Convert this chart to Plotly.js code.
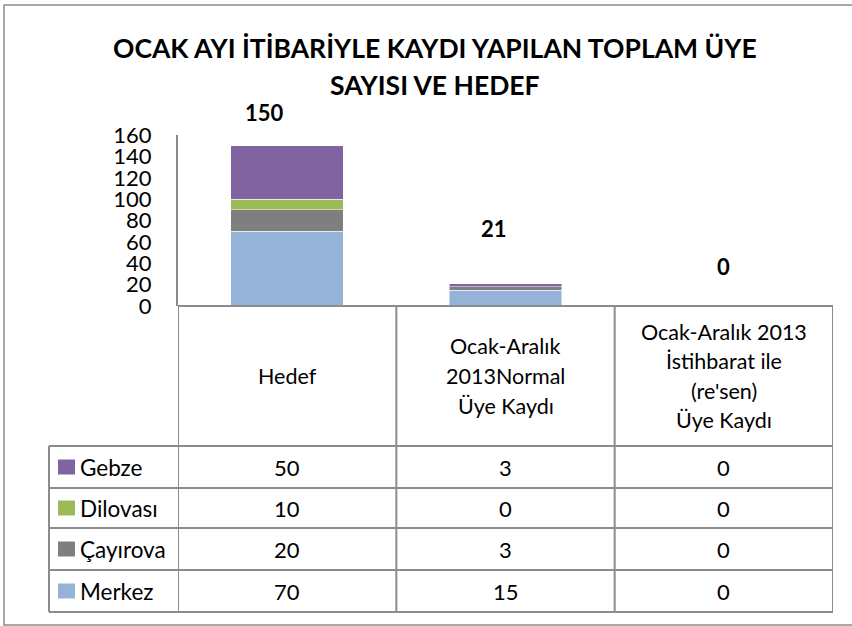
<!DOCTYPE html>
<html>
<head>
<meta charset="utf-8">
<script src="https://cdn.plot.ly/plotly-3.0.1.min.js"></script>
<style>html,body{margin:0;padding:0;background:#fff;}#chart{width:852px;height:626px;}</style>
</head>
<body>
<div id="chart"></div>
<script>
// ---- data ----
const categories = ["Hedef", "Ocak-Aralık<br>2013Normal<br>Üye Kaydı", "Ocak-Aralık 2013<br>İstihbarat ile<br>(re'sen)<br>Üye Kaydı"];
const seriesNames = ["Gebze", "Dilovası", "Çayırova", "Merkez"];
const gebze = [50, 3, 0];
const dilovasi = [10, 0, 0];
const cayirova = [20, 3, 0];
const merkez = [70, 15, 0];
const totalLabels = [150, 21, 0];
const yTicks = [0, 20, 40, 60, 80, 100, 120, 140, 160];
const titleLines = ["OCAK AYI İTİBARİYLE KAYDI YAPILAN TOPLAM ÜYE", "SAYISI VE HEDEF"];

// ---- style ----
const colors = {"Gebze": "#8064A2", "Dilovası": "#9BBB59", "Çayırova": "#7F7F7F", "Merkez": "#95B3D7"};
const W = 852, H = 626;
const FONT = "Lato, 'Open Sans', sans-serif";
const px = x => x / W;
const py = y => 1 - y / H;
const plotL = 178, plotR = 833, plotTop = 135.3, plotBot = 306;
const tableLeft = 49, rowLines = [446, 488, 528, 570, 612];
const gridColor = "#8c8c8c";

const xIdx = categories.map((c, i) => i);
const valuesBySeries = {"Gebze": gebze, "Dilovası": dilovasi, "Çayırova": cayirova, "Merkez": merkez};
const stackOrder = ["Merkez", "Çayırova", "Dilovası", "Gebze"];

const traces = stackOrder.map(name => ({
  type: "bar",
  name: name,
  x: xIdx,
  y: valuesBySeries[name],
  width: 0.515,
  marker: {color: colors[name], line: {color: "rgba(255,255,255,0.6)", width: 0.8}},
  hoverinfo: "x+y+name",
  showlegend: false
}));

const shapes = [];
const annotations = [];

// outer border
shapes.push({type: "rect", xref: "paper", yref: "paper", x0: px(4), x1: px(853), y0: py(625), y1: py(5),
  line: {color: "#8c8c8c", width: 1.5}});

// horizontal top line of table (x axis)
shapes.push({type: "line", xref: "paper", yref: "paper", x0: px(plotL), x1: px(plotR), y0: py(plotBot), y1: py(plotBot),
  line: {color: gridColor, width: 2}});
rowLines.forEach(y => shapes.push({type: "line", xref: "paper", yref: "paper", x0: px(tableLeft), x1: px(plotR), y0: py(y), y1: py(y),
  line: {color: gridColor, width: 2}}));
// vertical lines at category boundaries
for (let b = -0.5; b <= categories.length - 0.5 + 1e-9; b += 1) {
  shapes.push({type: "line", xref: "x", yref: "paper", x0: b, x1: b, y0: py(plotBot), y1: py(rowLines[rowLines.length - 1]),
    line: {color: gridColor, width: 2}});
}
// legend column left line
shapes.push({type: "line", xref: "paper", yref: "paper", x0: px(tableLeft), x1: px(tableLeft), y0: py(rowLines[0]), y1: py(rowLines[rowLines.length - 1]),
  line: {color: gridColor, width: 2}});

// header labels (each line as its own annotation)
const headerCenterY = 376;
const headerLineH = 29.5;
categories.forEach((c, i) => {
  const lines = c.split("<br>");
  lines.forEach((ln, k) => {
    const y = headerCenterY + (k - (lines.length - 1) / 2) * headerLineH;
    annotations.push({xref: "x", yref: "paper", x: i, y: py(y), text: ln, showarrow: false,
      xanchor: "center", yanchor: "middle", font: {family: FONT, size: 21.5, color: "#000"}});
  });
});

// table rows
seriesNames.forEach((name, r) => {
  const yc = (rowLines[r] + rowLines[r + 1]) / 2;
  shapes.push({type: "rect", xref: "paper", yref: "paper", x0: px(58), x1: px(75), y0: py(yc + 7.5), y1: py(yc - 7.5),
    fillcolor: colors[name], line: {width: 0}});
  annotations.push({xref: "paper", yref: "paper", x: px(78), y: py(yc), text: name, showarrow: false,
    xanchor: "left", yanchor: "middle", font: {family: FONT, size: 22.5, color: "#000"}});
  valuesBySeries[name].forEach((v, i) => {
    annotations.push({xref: "x", yref: "paper", x: i, y: py(yc), text: String(v), showarrow: false,
      xanchor: "center", yanchor: "middle", font: {family: FONT, size: 22, color: "#000"}});
  });
});

// total labels
const totalShift = [{dx: -23, dy: 33}, {dx: -12, dy: 55}, {dx: 0, dy: 40}];
totalLabels.forEach((t, i) => {
  annotations.push({xref: "x", yref: "y", x: i, y: t, text: "<b>" + t + "</b>", showarrow: false,
    xanchor: "center", yanchor: "middle", xshift: totalShift[i].dx, yshift: totalShift[i].dy,
    font: {family: FONT, size: 22, color: "#000"}});
});

// title lines
const titleY = [48, 85];
titleLines.forEach((t, k) => {
  annotations.push({xref: "paper", yref: "paper", x: px(435), y: py(titleY[k]), text: "<b>" + t + "</b>", showarrow: false,
    xanchor: "center", yanchor: "middle", font: {family: FONT, size: 26.5, color: "#000"}});
});

const layout = {
  width: W, height: H,
  margin: {l: 0, r: 0, t: 0, b: 0},
  paper_bgcolor: "#fff", plot_bgcolor: "rgba(0,0,0,0)",
  barmode: "stack",
  bargap: 0,
  showlegend: false,
  xaxis: {domain: [px(plotL), px(plotR)], range: [-0.5, categories.length - 0.5], visible: false, fixedrange: true},
  yaxis: {domain: [py(plotBot), py(plotTop)], range: [0, 160], tickvals: yTicks, ticktext: yTicks.map(String),
    showgrid: false, zeroline: false, showline: true, linecolor: gridColor, linewidth: 2,
    ticks: "outside", ticklen: 20, tickcolor: "rgba(0,0,0,0)",
    tickfont: {family: FONT, size: 22, color: "#000"}, fixedrange: true},
  shapes: shapes,
  annotations: annotations
};

Plotly.newPlot("chart", traces, layout, {displayModeBar: false, staticPlot: true});
</script>
</body>
</html>
